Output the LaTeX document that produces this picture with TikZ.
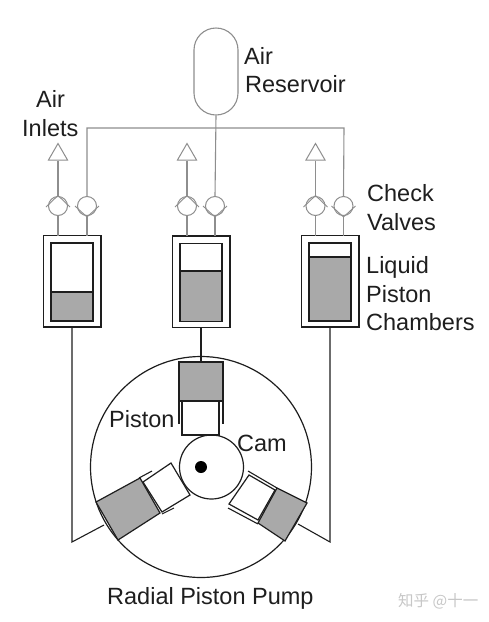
\documentclass[tikz,border=0pt]{standalone}
\usepackage{fontspec}
\setmainfont{Liberation Sans}
\newfontfamily\cjkwm{Noto Sans CJK SC}
\usetikzlibrary{shapes.geometric}
\definecolor{pipe}{HTML}{8E8E8E}
\definecolor{fluid}{HTML}{A9A9A9}
\definecolor{ink}{HTML}{1E1E1E}
\tikzset{
  pipeline/.style={draw=pipe,line width=1.1pt},
  blackline/.style={draw=ink,line width=1.1pt},
  outerbox/.style={draw=ink,line width=1.5pt,minimum width=57.5pt,minimum height=91.5pt,inner sep=0pt,fill=white},
  innerbox/.style={draw=ink,line width=1.5pt,minimum width=42pt,inner sep=0pt},
  valve/.style={circle,draw=pipe,line width=1pt,minimum size=19pt,inner sep=0pt,fill=white},
  vent/.style={regular polygon,regular polygon sides=3,draw=pipe,line width=1pt,minimum size=22pt,inner sep=0pt,fill=white},
  label/.style={font=\fontsize{23.5}{23.5}\selectfont,text=ink,inner sep=0pt,anchor=base west},
  gaspart/.style={draw=ink,line width=1.2pt,fill=white},
  liquidpart/.style={draw=ink,line width=1.2pt,fill=fluid},
}
\newcommand{\chamber}[5]{% name, cx, top of outer, level, bottom inner
  \node[outerbox] (#1) at (#2,#3+45.75) {};
  \node[innerbox,minimum height=78pt,fill=white] (#1i) at (#2,#3+7.5+39) {};
  \fill[fluid] (#2-21,#4) rectangle (#2+21,#3+85.5);
  \draw[blackline,line width=1.5pt] (#2-21,#3+7.5) rectangle (#2+21,#3+85.5);
  \draw[blackline] (#2-21,#4) -- (#2+21,#4);
}
\begin{document}
\begin{tikzpicture}[x=1pt,y=-1pt]
\useasboundingbox (0,0) rectangle (488,622);
\fill[white] (0,0) rectangle (488,622);

% manifold
\coordinate (mL) at (87,128);
\coordinate (mM) at (215,128);
\coordinate (mR) at (344,128);

% chambers
\chamber{c1}{72}{235.5}{292}{321}
\chamber{c2}{201}{236}{271}{322}
\chamber{c3}{330}{235.5}{257}{321}

% valves
\foreach \n/\x in {a/58,b/187,c/315.5}{
  \node[valve] (in\n) at (\x,206) {};
  \node[vent] (v\n) at (\x,154.5) {};
  \draw[pipeline] (v\n.south) -- (in\n.north);
  \draw[pipeline] (in\n.south) -- (\x,235.5);
  \draw[draw=pipe,line width=.9pt] (\x-12,207) -- (\x,195.5) -- (\x+12,207);
}
\foreach \n/\x in {a/87,b/215,c/343.5}{
  \node[valve] (out\n) at (\x,206) {};
  \draw[pipeline] (out\n.south) -- (\x,235.5);
  \draw[draw=pipe,line width=.9pt] (\x-12,206) -- (\x,217) -- (\x+12,206);
}

% air lines
\node[draw=pipe,line width=1.1pt,fill=white,minimum width=44pt,minimum height=87pt,rounded corners=22pt,inner sep=0pt] (res) at (216,71.5) {};
\draw[pipeline] (outa.north) -- (mL) -- (mR) -- (outc.north);
\draw[pipeline] (res.south) -- (outb.north);

% pump
\node[circle,draw=ink,line width=1.2pt,minimum size=221pt,inner sep=0pt] (pump) at (201,467) {};
\node[circle,draw=ink,line width=1.2pt,minimum size=64pt,inner sep=0pt,fill=white] (cam) at (211.5,467) {};
\node[circle,fill=black,minimum size=12pt,inner sep=0pt] (shaft) at (201,467) {};

% top piston
\coordinate (p2) at (201,362);
\draw[gaspart] (182,401) rectangle (219,435);
\draw[blackline] (179,401) -- (179,424) (223,401) -- (223,424);
\draw[liquidpart] (179,362) rectangle (223,401);

% left piston
\coordinate (p1) at (104,525);
\draw[gaspart] (143,482) -- (171,463) -- (190,495) -- (162,512) -- cycle;
\draw[blackline] (139,478) -- (152,471) (162,514) -- (174,508);
\draw[liquidpart] (96,502) -- (140,478) -- (160,513) -- (118,540) -- cycle;

% right piston
\coordinate (p3) at (298,524);
\draw[gaspart] (249,475) -- (275,490) -- (258,520) -- (229,504) -- cycle;
\draw[blackline] (248,471) -- (277,488) (228,508) -- (258,524);
\draw[liquidpart] (277,488) -- (307,503) -- (285,541) -- (258,523) -- cycle;

% liquid lines
\draw[blackline] (c2.south) -- (p2);
\draw[blackline] (c1.south) -- (72,542) -- (p1);
\draw[blackline] (c3.south) -- (330,542) -- (p3);

% labels
\node[label] (t1) at (244,64) {Air};
\node[label] (t2) at (245,92) {Reservoir};
\node[label] (t3) at (36,107) {Air};
\node[label] (t4) at (22,136) {Inlets};
\node[label] (t5) at (367,201) {Check};
\node[label] (t6) at (367,230) {Valves};
\node[label] (t7) at (366,273) {Liquid};
\node[label] (t8) at (366,302) {Piston};
\node[label] (t9) at (366,330) {Chambers};
\node[label] (t10) at (109,427) {Piston};
\node[label] (t11) at (237,451) {Cam};
\node[label,font=\fontsize{23.5}{23.5}\selectfont] (t12) at (107,604) {Radial Piston Pump};
\node[inner sep=0pt,anchor=base west,text=black!22,font=\cjkwm\fontsize{15.5}{16}\selectfont] (wm) at (398,606) {知乎 @十一};
\end{tikzpicture}
\end{document}
